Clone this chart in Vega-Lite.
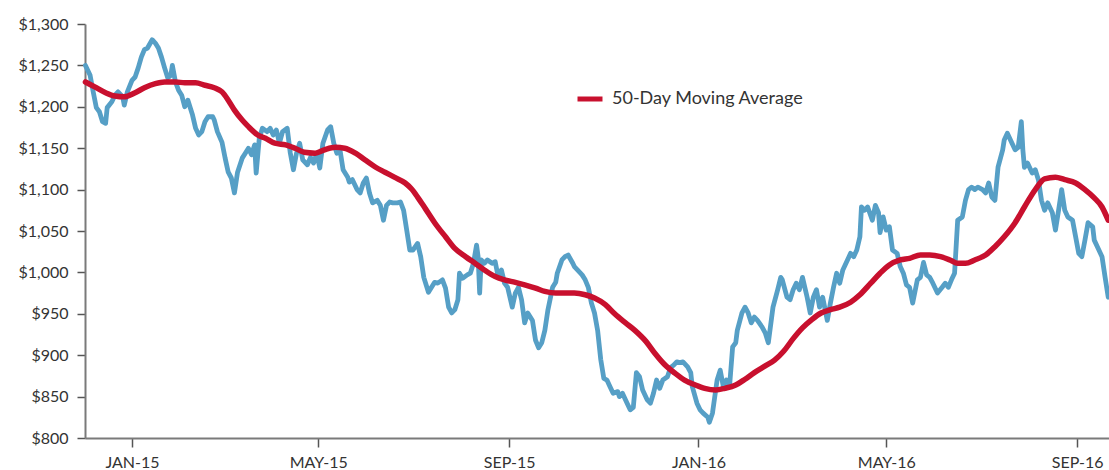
{
  "$schema": "https://vega.github.io/schema/vega-lite/v6.json",
  "width": 1024,
  "height": 414,
  "autosize": {"type": "none"},
  "padding": {"left": 85, "top": 24, "right": 0, "bottom": 32},
  "background": "white",
  "config": {
    "view": {"stroke": null},
    "font": "Lato",
    "axis": {
      "grid": false,
      "domainColor": "#7a7a7a",
      "domainWidth": 2,
      "tickColor": "#555555",
      "tickWidth": 1.5,
      "tickSize": 8,
      "labelFont": "Lato",
      "labelFontSize": 16,
      "labelColor": "#333333",
      "title": null
    },
    "legend": {
      "labelFont": "Lato",
      "labelFontSize": 18,
      "labelColor": "#333333",
      "labelLimit": 0
    }
  },
  "datasets": {
    "price": [
      {"date": "2014-12-02", "value": 1250}, {"date": "2014-12-05", "value": 1238}, {"date": "2014-12-07", "value": 1218}, {"date": "2014-12-09", "value": 1199}, {"date": "2014-12-11", "value": 1194}, {"date": "2014-12-13", "value": 1182}, {"date": "2014-12-15", "value": 1180}, {"date": "2014-12-16", "value": 1199}, {"date": "2014-12-19", "value": 1206}, {"date": "2014-12-21", "value": 1214}, {"date": "2014-12-23", "value": 1218}, {"date": "2014-12-26", "value": 1212}, {"date": "2014-12-27", "value": 1202}, {"date": "2014-12-29", "value": 1218},
      {"date": "2015-01-01", "value": 1232}, {"date": "2015-01-03", "value": 1236}, {"date": "2015-01-05", "value": 1247}, {"date": "2015-01-07", "value": 1260}, {"date": "2015-01-09", "value": 1269}, {"date": "2015-01-11", "value": 1271}, {"date": "2015-01-14", "value": 1281}, {"date": "2015-01-16", "value": 1277}, {"date": "2015-01-18", "value": 1271}, {"date": "2015-01-20", "value": 1260}, {"date": "2015-01-22", "value": 1247}, {"date": "2015-01-24", "value": 1235}, {"date": "2015-01-26", "value": 1238}, {"date": "2015-01-27", "value": 1250}, {"date": "2015-01-29", "value": 1230}, {"date": "2015-01-31", "value": 1220},
      {"date": "2015-02-02", "value": 1214}, {"date": "2015-02-04", "value": 1200}, {"date": "2015-02-06", "value": 1208}, {"date": "2015-02-09", "value": 1190}, {"date": "2015-02-11", "value": 1174}, {"date": "2015-02-13", "value": 1166}, {"date": "2015-02-15", "value": 1170}, {"date": "2015-02-17", "value": 1182}, {"date": "2015-02-19", "value": 1188}, {"date": "2015-02-22", "value": 1188}, {"date": "2015-02-23", "value": 1184}, {"date": "2015-02-25", "value": 1170}, {"date": "2015-02-28", "value": 1157},
      {"date": "2015-03-02", "value": 1138}, {"date": "2015-03-04", "value": 1121}, {"date": "2015-03-06", "value": 1114}, {"date": "2015-03-08", "value": 1096}, {"date": "2015-03-10", "value": 1121}, {"date": "2015-03-13", "value": 1138}, {"date": "2015-03-15", "value": 1144}, {"date": "2015-03-17", "value": 1150}, {"date": "2015-03-19", "value": 1142}, {"date": "2015-03-21", "value": 1154}, {"date": "2015-03-22", "value": 1120}, {"date": "2015-03-24", "value": 1162}, {"date": "2015-03-25", "value": 1168}, {"date": "2015-03-26", "value": 1174}, {"date": "2015-03-29", "value": 1170}, {"date": "2015-03-31", "value": 1174},
      {"date": "2015-04-02", "value": 1166}, {"date": "2015-04-04", "value": 1172}, {"date": "2015-04-06", "value": 1156}, {"date": "2015-04-08", "value": 1170}, {"date": "2015-04-11", "value": 1174}, {"date": "2015-04-13", "value": 1144}, {"date": "2015-04-15", "value": 1124}, {"date": "2015-04-17", "value": 1144}, {"date": "2015-04-19", "value": 1156}, {"date": "2015-04-21", "value": 1136}, {"date": "2015-04-24", "value": 1130}, {"date": "2015-04-26", "value": 1139}, {"date": "2015-04-28", "value": 1132}, {"date": "2015-04-30", "value": 1144},
      {"date": "2015-05-02", "value": 1126}, {"date": "2015-05-04", "value": 1156}, {"date": "2015-05-07", "value": 1172}, {"date": "2015-05-09", "value": 1176}, {"date": "2015-05-11", "value": 1156}, {"date": "2015-05-13", "value": 1144}, {"date": "2015-05-15", "value": 1148}, {"date": "2015-05-17", "value": 1124}, {"date": "2015-05-20", "value": 1115}, {"date": "2015-05-21", "value": 1109}, {"date": "2015-05-23", "value": 1112}, {"date": "2015-05-26", "value": 1100}, {"date": "2015-05-28", "value": 1096}, {"date": "2015-05-30", "value": 1108},
      {"date": "2015-06-01", "value": 1114}, {"date": "2015-06-03", "value": 1096}, {"date": "2015-06-05", "value": 1084}, {"date": "2015-06-08", "value": 1087}, {"date": "2015-06-10", "value": 1081}, {"date": "2015-06-12", "value": 1063}, {"date": "2015-06-14", "value": 1081}, {"date": "2015-06-16", "value": 1085}, {"date": "2015-06-18", "value": 1084}, {"date": "2015-06-21", "value": 1084}, {"date": "2015-06-23", "value": 1085}, {"date": "2015-06-25", "value": 1075}, {"date": "2015-06-27", "value": 1051}, {"date": "2015-06-29", "value": 1027},
      {"date": "2015-07-01", "value": 1027}, {"date": "2015-07-04", "value": 1035}, {"date": "2015-07-06", "value": 1019}, {"date": "2015-07-08", "value": 994}, {"date": "2015-07-10", "value": 982}, {"date": "2015-07-11", "value": 976}, {"date": "2015-07-13", "value": 982}, {"date": "2015-07-15", "value": 988}, {"date": "2015-07-17", "value": 987}, {"date": "2015-07-20", "value": 991}, {"date": "2015-07-22", "value": 981}, {"date": "2015-07-24", "value": 958}, {"date": "2015-07-26", "value": 951}, {"date": "2015-07-28", "value": 955}, {"date": "2015-07-30", "value": 967}, {"date": "2015-07-31", "value": 999},
      {"date": "2015-08-02", "value": 993}, {"date": "2015-08-05", "value": 997}, {"date": "2015-08-07", "value": 999}, {"date": "2015-08-09", "value": 1011}, {"date": "2015-08-11", "value": 1033}, {"date": "2015-08-12", "value": 1019}, {"date": "2015-08-13", "value": 975}, {"date": "2015-08-14", "value": 1015}, {"date": "2015-08-16", "value": 1011}, {"date": "2015-08-18", "value": 1015}, {"date": "2015-08-21", "value": 1011}, {"date": "2015-08-23", "value": 1013}, {"date": "2015-08-25", "value": 994}, {"date": "2015-08-27", "value": 1003}, {"date": "2015-08-29", "value": 987}, {"date": "2015-08-31", "value": 982},
      {"date": "2015-09-03", "value": 958}, {"date": "2015-09-05", "value": 975}, {"date": "2015-09-07", "value": 982}, {"date": "2015-09-09", "value": 967}, {"date": "2015-09-11", "value": 939}, {"date": "2015-09-13", "value": 951}, {"date": "2015-09-16", "value": 942}, {"date": "2015-09-18", "value": 918}, {"date": "2015-09-20", "value": 909}, {"date": "2015-09-22", "value": 915}, {"date": "2015-09-24", "value": 930}, {"date": "2015-09-26", "value": 955}, {"date": "2015-09-29", "value": 982},
      {"date": "2015-10-01", "value": 988}, {"date": "2015-10-02", "value": 999}, {"date": "2015-10-05", "value": 1015}, {"date": "2015-10-07", "value": 1019}, {"date": "2015-10-09", "value": 1021}, {"date": "2015-10-12", "value": 1011}, {"date": "2015-10-13", "value": 1007}, {"date": "2015-10-15", "value": 1003}, {"date": "2015-10-18", "value": 997}, {"date": "2015-10-20", "value": 991}, {"date": "2015-10-22", "value": 982}, {"date": "2015-10-24", "value": 963}, {"date": "2015-10-26", "value": 951}, {"date": "2015-10-28", "value": 930}, {"date": "2015-10-30", "value": 895},
      {"date": "2015-11-01", "value": 872}, {"date": "2015-11-03", "value": 870}, {"date": "2015-11-05", "value": 862}, {"date": "2015-11-07", "value": 854}, {"date": "2015-11-10", "value": 856}, {"date": "2015-11-11", "value": 850}, {"date": "2015-11-13", "value": 854}, {"date": "2015-11-16", "value": 842}, {"date": "2015-11-18", "value": 834}, {"date": "2015-11-20", "value": 837}, {"date": "2015-11-22", "value": 879}, {"date": "2015-11-24", "value": 874}, {"date": "2015-11-26", "value": 858}, {"date": "2015-11-29", "value": 846},
      {"date": "2015-12-01", "value": 842}, {"date": "2015-12-03", "value": 854}, {"date": "2015-12-05", "value": 870}, {"date": "2015-12-07", "value": 860}, {"date": "2015-12-09", "value": 870}, {"date": "2015-12-12", "value": 874}, {"date": "2015-12-14", "value": 885}, {"date": "2015-12-16", "value": 888}, {"date": "2015-12-18", "value": 892}, {"date": "2015-12-20", "value": 891}, {"date": "2015-12-22", "value": 892}, {"date": "2015-12-25", "value": 886}, {"date": "2015-12-27", "value": 879}, {"date": "2015-12-28", "value": 862}, {"date": "2015-12-31", "value": 842},
      {"date": "2016-01-02", "value": 834}, {"date": "2016-01-04", "value": 830}, {"date": "2016-01-07", "value": 825}, {"date": "2016-01-08", "value": 819}, {"date": "2016-01-10", "value": 830}, {"date": "2016-01-13", "value": 870}, {"date": "2016-01-15", "value": 882}, {"date": "2016-01-17", "value": 862}, {"date": "2016-01-19", "value": 870}, {"date": "2016-01-21", "value": 862}, {"date": "2016-01-23", "value": 910}, {"date": "2016-01-25", "value": 915}, {"date": "2016-01-26", "value": 930}, {"date": "2016-01-29", "value": 951}, {"date": "2016-01-31", "value": 958},
      {"date": "2016-02-02", "value": 951}, {"date": "2016-02-04", "value": 939}, {"date": "2016-02-06", "value": 946}, {"date": "2016-02-08", "value": 942}, {"date": "2016-02-11", "value": 934}, {"date": "2016-02-13", "value": 927}, {"date": "2016-02-15", "value": 915}, {"date": "2016-02-18", "value": 958}, {"date": "2016-02-21", "value": 979}, {"date": "2016-02-23", "value": 994}, {"date": "2016-02-24", "value": 991}, {"date": "2016-02-27", "value": 970}, {"date": "2016-02-29", "value": 967},
      {"date": "2016-03-02", "value": 979}, {"date": "2016-03-04", "value": 987}, {"date": "2016-03-06", "value": 979}, {"date": "2016-03-08", "value": 994}, {"date": "2016-03-11", "value": 970}, {"date": "2016-03-13", "value": 951}, {"date": "2016-03-15", "value": 970}, {"date": "2016-03-17", "value": 979}, {"date": "2016-03-19", "value": 958}, {"date": "2016-03-21", "value": 970}, {"date": "2016-03-24", "value": 942}, {"date": "2016-03-26", "value": 963}, {"date": "2016-03-28", "value": 982}, {"date": "2016-03-30", "value": 999},
      {"date": "2016-04-01", "value": 987}, {"date": "2016-04-03", "value": 1003}, {"date": "2016-04-06", "value": 1015}, {"date": "2016-04-08", "value": 1023}, {"date": "2016-04-10", "value": 1019}, {"date": "2016-04-12", "value": 1027}, {"date": "2016-04-14", "value": 1043}, {"date": "2016-04-15", "value": 1079}, {"date": "2016-04-17", "value": 1075}, {"date": "2016-04-19", "value": 1079}, {"date": "2016-04-22", "value": 1063}, {"date": "2016-04-24", "value": 1081}, {"date": "2016-04-26", "value": 1072}, {"date": "2016-04-27", "value": 1048}, {"date": "2016-04-29", "value": 1067},
      {"date": "2016-05-01", "value": 1051}, {"date": "2016-05-03", "value": 1055}, {"date": "2016-05-05", "value": 1027}, {"date": "2016-05-08", "value": 1023}, {"date": "2016-05-10", "value": 1007}, {"date": "2016-05-12", "value": 999}, {"date": "2016-05-14", "value": 985}, {"date": "2016-05-16", "value": 982}, {"date": "2016-05-18", "value": 963}, {"date": "2016-05-21", "value": 991}, {"date": "2016-05-23", "value": 994}, {"date": "2016-05-25", "value": 1012}, {"date": "2016-05-27", "value": 997}, {"date": "2016-05-29", "value": 994}, {"date": "2016-05-31", "value": 987},
      {"date": "2016-06-03", "value": 975}, {"date": "2016-06-06", "value": 982}, {"date": "2016-06-08", "value": 987}, {"date": "2016-06-10", "value": 982}, {"date": "2016-06-12", "value": 991}, {"date": "2016-06-14", "value": 999}, {"date": "2016-06-16", "value": 1063}, {"date": "2016-06-19", "value": 1067}, {"date": "2016-06-21", "value": 1087}, {"date": "2016-06-23", "value": 1100}, {"date": "2016-06-25", "value": 1103}, {"date": "2016-06-27", "value": 1100}, {"date": "2016-06-29", "value": 1103},
      {"date": "2016-07-02", "value": 1100}, {"date": "2016-07-04", "value": 1096}, {"date": "2016-07-06", "value": 1108}, {"date": "2016-07-08", "value": 1091}, {"date": "2016-07-10", "value": 1087}, {"date": "2016-07-12", "value": 1127}, {"date": "2016-07-15", "value": 1148}, {"date": "2016-07-16", "value": 1160}, {"date": "2016-07-18", "value": 1168}, {"date": "2016-07-21", "value": 1156}, {"date": "2016-07-23", "value": 1148}, {"date": "2016-07-25", "value": 1151}, {"date": "2016-07-27", "value": 1182}, {"date": "2016-07-28", "value": 1148}, {"date": "2016-07-29", "value": 1127}, {"date": "2016-07-31", "value": 1132},
      {"date": "2016-08-03", "value": 1120}, {"date": "2016-08-05", "value": 1124}, {"date": "2016-08-07", "value": 1112}, {"date": "2016-08-09", "value": 1087}, {"date": "2016-08-11", "value": 1075}, {"date": "2016-08-13", "value": 1084}, {"date": "2016-08-16", "value": 1072}, {"date": "2016-08-18", "value": 1051}, {"date": "2016-08-20", "value": 1075}, {"date": "2016-08-22", "value": 1100}, {"date": "2016-08-24", "value": 1075}, {"date": "2016-08-26", "value": 1067}, {"date": "2016-08-29", "value": 1063}, {"date": "2016-08-31", "value": 1043},
      {"date": "2016-09-02", "value": 1023}, {"date": "2016-09-04", "value": 1019}, {"date": "2016-09-06", "value": 1039}, {"date": "2016-09-08", "value": 1060}, {"date": "2016-09-11", "value": 1055}, {"date": "2016-09-12", "value": 1039}, {"date": "2016-09-14", "value": 1031}, {"date": "2016-09-17", "value": 1019}, {"date": "2016-09-19", "value": 994}, {"date": "2016-09-21", "value": 970}
    ],
    "ma": [
      {"date": "2014-12-02", "value": 1230}, {"date": "2014-12-08", "value": 1224}, {"date": "2014-12-15", "value": 1217}, {"date": "2014-12-21", "value": 1213}, {"date": "2014-12-27", "value": 1212},
      {"date": "2015-01-03", "value": 1217}, {"date": "2015-01-09", "value": 1223}, {"date": "2015-01-16", "value": 1228}, {"date": "2015-01-22", "value": 1230}, {"date": "2015-01-29", "value": 1230},
      {"date": "2015-02-04", "value": 1229}, {"date": "2015-02-11", "value": 1229}, {"date": "2015-02-17", "value": 1226}, {"date": "2015-02-23", "value": 1223}, {"date": "2015-02-28", "value": 1218},
      {"date": "2015-03-04", "value": 1208}, {"date": "2015-03-08", "value": 1196}, {"date": "2015-03-13", "value": 1184}, {"date": "2015-03-17", "value": 1176}, {"date": "2015-03-23", "value": 1166}, {"date": "2015-03-28", "value": 1162},
      {"date": "2015-04-03", "value": 1156}, {"date": "2015-04-10", "value": 1154}, {"date": "2015-04-16", "value": 1150}, {"date": "2015-04-22", "value": 1145}, {"date": "2015-04-29", "value": 1144},
      {"date": "2015-05-05", "value": 1148}, {"date": "2015-05-12", "value": 1151}, {"date": "2015-05-18", "value": 1150}, {"date": "2015-05-25", "value": 1144}, {"date": "2015-05-31", "value": 1136},
      {"date": "2015-06-07", "value": 1127}, {"date": "2015-06-13", "value": 1121}, {"date": "2015-06-19", "value": 1115}, {"date": "2015-06-26", "value": 1108}, {"date": "2015-06-30", "value": 1101},
      {"date": "2015-07-04", "value": 1091}, {"date": "2015-07-09", "value": 1077}, {"date": "2015-07-15", "value": 1060}, {"date": "2015-07-22", "value": 1043}, {"date": "2015-07-28", "value": 1029},
      {"date": "2015-08-04", "value": 1019}, {"date": "2015-08-10", "value": 1011}, {"date": "2015-08-16", "value": 1003}, {"date": "2015-08-23", "value": 995}, {"date": "2015-08-29", "value": 991},
      {"date": "2015-09-05", "value": 988}, {"date": "2015-09-11", "value": 985}, {"date": "2015-09-18", "value": 981}, {"date": "2015-09-24", "value": 977},
      {"date": "2015-10-01", "value": 975}, {"date": "2015-10-07", "value": 975}, {"date": "2015-10-13", "value": 975}, {"date": "2015-10-20", "value": 973}, {"date": "2015-10-26", "value": 969},
      {"date": "2015-11-02", "value": 961}, {"date": "2015-11-08", "value": 950}, {"date": "2015-11-15", "value": 939}, {"date": "2015-11-21", "value": 930}, {"date": "2015-11-28", "value": 917},
      {"date": "2015-12-04", "value": 902}, {"date": "2015-12-10", "value": 889}, {"date": "2015-12-17", "value": 878}, {"date": "2015-12-23", "value": 870}, {"date": "2015-12-30", "value": 864},
      {"date": "2016-01-05", "value": 860}, {"date": "2016-01-12", "value": 858}, {"date": "2016-01-18", "value": 860}, {"date": "2016-01-25", "value": 864}, {"date": "2016-01-31", "value": 871},
      {"date": "2016-02-06", "value": 879}, {"date": "2016-02-13", "value": 887}, {"date": "2016-02-19", "value": 894}, {"date": "2016-02-25", "value": 905}, {"date": "2016-03-02", "value": 920},
      {"date": "2016-03-08", "value": 933}, {"date": "2016-03-14", "value": 943}, {"date": "2016-03-20", "value": 951}, {"date": "2016-03-26", "value": 955},
      {"date": "2016-04-01", "value": 958}, {"date": "2016-04-08", "value": 964}, {"date": "2016-04-14", "value": 973}, {"date": "2016-04-21", "value": 987}, {"date": "2016-04-27", "value": 999},
      {"date": "2016-05-03", "value": 1009}, {"date": "2016-05-10", "value": 1015}, {"date": "2016-05-16", "value": 1017}, {"date": "2016-05-23", "value": 1021}, {"date": "2016-05-29", "value": 1021},
      {"date": "2016-06-05", "value": 1019}, {"date": "2016-06-11", "value": 1015}, {"date": "2016-06-16", "value": 1011}, {"date": "2016-06-21", "value": 1011}, {"date": "2016-06-27", "value": 1015},
      {"date": "2016-07-04", "value": 1021}, {"date": "2016-07-10", "value": 1031}, {"date": "2016-07-16", "value": 1043}, {"date": "2016-07-23", "value": 1060}, {"date": "2016-07-29", "value": 1079},
      {"date": "2016-08-05", "value": 1100}, {"date": "2016-08-11", "value": 1113}, {"date": "2016-08-18", "value": 1115}, {"date": "2016-08-24", "value": 1112}, {"date": "2016-08-31", "value": 1108},
      {"date": "2016-09-06", "value": 1100}, {"date": "2016-09-12", "value": 1090}, {"date": "2016-09-17", "value": 1079}, {"date": "2016-09-21", "value": 1063}
    ]
  },
  "encoding": {
    "x": {
      "field": "date",
      "type": "temporal",
      "scale": {
        "type": "utc",
        "domain": [
          {"year": 2014, "month": 12, "date": 1, "hours": 17, "utc": true},
          {"year": 2016, "month": 9, "date": 21, "hours": 12, "utc": true}
        ]
      },
      "axis": {
        "values": [
          {"year": 2015, "month": 1, "date": 1, "utc": true},
          {"year": 2015, "month": 5, "date": 1, "utc": true},
          {"year": 2015, "month": 9, "date": 1, "utc": true},
          {"year": 2016, "month": 1, "date": 1, "utc": true},
          {"year": 2016, "month": 5, "date": 1, "utc": true},
          {"year": 2016, "month": 9, "date": 1, "utc": true}
        ],
        "labelExpr": "upper(utcFormat(datum.value, '%b-%y'))",
        "tickSize": 9,
        "labelPadding": 7,
        "title": null
      }
    },
    "y": {
      "field": "value",
      "type": "quantitative",
      "scale": {"domain": [800, 1300], "nice": false, "zero": false},
      "axis": {
        "values": [800, 850, 900, 950, 1000, 1050, 1100, 1150, 1200, 1250, 1300],
        "format": "$,.0f",
        "tickSize": 8,
        "labelPadding": 9,
        "title": null
      }
    }
  },
  "layer": [
    {
      "data": {"name": "price"},
      "mark": {"type": "line", "strokeWidth": 4.8, "strokeJoin": "round", "strokeCap": "round"},
      "encoding": {
        "color": {
          "datum": "Price",
          "scale": {"domain": ["Price", "50-Day Moving Average"], "range": ["#569fc6", "#c8102e"]},
          "legend": {
            "values": ["50-Day Moving Average"],
            "title": null,
            "orient": "none",
            "legendX": 490,
            "legendY": 60,
            "padding": 0,
            "symbolType": "stroke",
            "symbolStrokeWidth": 5,
            "symbolSize": 625,
            "labelOffset": 7
          }
        }
      }
    },
    {
      "data": {"name": "ma"},
      "mark": {"type": "line", "strokeWidth": 5.5, "interpolate": "monotone", "strokeCap": "round"},
      "encoding": {
        "color": {"datum": "50-Day Moving Average"}
      }
    }
  ]
}
